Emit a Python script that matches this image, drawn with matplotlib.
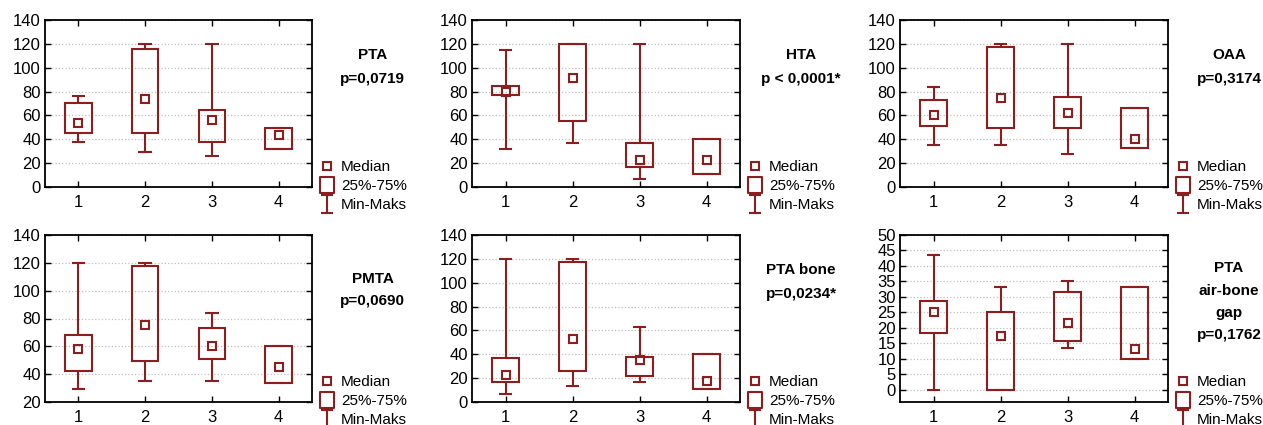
import numpy as np
import matplotlib.pyplot as plt
from matplotlib.lines import Line2D
from matplotlib.path import Path

plt.rcParams.update({
    "font.family": ["Liberation Sans", "DejaVu Sans"],
    "font.size": 10,
})

# === Data ===
groups = [1, 2, 3, 4]
titles = ["PTA\np=0,0719", "HTA\np < 0,0001*", "OAA\np=0,3174",
          "PMTA\np=0,0690", "PTA bone\np=0,0234*", "PTA\nair-bone\ngap\np=0,1762"]

# each panel: min, q1, median, q3, max for groups 1..4
pta_min = [38, 29, 26, 31.5]
pta_q1 = [45.5, 45.5, 38, 31.5]
pta_med = [54, 73.5, 56, 44]
pta_q3 = [70.5, 116, 64.5, 49.5]
pta_max = [76, 120, 120, 49.5]

hta_min = [31.5, 37, 7, 11]
hta_q1 = [77.5, 55.5, 16.5, 11]
hta_med = [79.5, 91.5, 23, 23]
hta_q3 = [84.5, 120, 37, 40]
hta_max = [115, 120, 120, 40]

oaa_min = [35, 35, 28, 32.5]
oaa_q1 = [51, 49.5, 49.5, 32.5]
oaa_med = [60, 75, 62, 40.5]
oaa_q3 = [73, 117.5, 75.5, 66.5]
oaa_max = [84, 120, 120, 66.5]

pmta_min = [29, 35, 35, 33.5]
pmta_q1 = [42.5, 49.5, 51, 33.5]
pmta_med = [58, 75.5, 60, 45]
pmta_q3 = [68.5, 117.5, 73, 60]
pmta_max = [120, 120, 84, 60]

bone_min = [6.5, 13.5, 16.5, 11]
bone_q1 = [16.5, 26, 22, 11]
bone_med = [23, 53, 35, 18]
bone_q3 = [37, 117, 38, 40]
bone_max = [120, 120, 63, 40]

gap_min = [0, 0, 13.3, 10]
gap_q1 = [18.3, 0, 15.8, 10]
gap_med = [25, 17.2, 21.7, 13.2]
gap_q3 = [28.5, 25, 31.6, 33.3]
gap_max = [43.4, 33.3, 35, 33.3]

panels = [
    (pta_min, pta_q1, pta_med, pta_q3, pta_max),
    (hta_min, hta_q1, hta_med, hta_q3, hta_max),
    (oaa_min, oaa_q1, oaa_med, oaa_q3, oaa_max),
    (pmta_min, pmta_q1, pmta_med, pmta_q3, pmta_max),
    (bone_min, bone_q1, bone_med, bone_q3, bone_max),
    (gap_min, gap_q1, gap_med, gap_q3, gap_max),
]
ylims = [(0, 140), (0, 140), (0, 140), (20, 140), (0, 140), (-4, 50)]
yticks = [np.arange(0, 141, 20)] * 3 + [np.arange(20, 141, 20), np.arange(0, 141, 20),
                                         np.arange(0, 51, 5)]
title_y = [0.72, 0.72, 0.72, 0.67, 0.72, 0.60]
title_ls = [1.9, 1.9, 1.9, 1.75, 1.9, 1.75]

# === Styling ===
col = "#8e1d1d"
W, H = 1263, 425
lefts = [45, 472, 900]
rights = [312, 740, 1168]
tops = [20, 235]
ax_h = 167

rect = Path([(-0.43, -0.5), (0.43, -0.5), (0.43, 0.5), (-0.43, 0.5), (-0.43, -0.5)],
            [Path.MOVETO, Path.LINETO, Path.LINETO, Path.LINETO, Path.CLOSEPOLY])
ibeam = Path([(-0.35, 0.5), (0.35, 0.5), (0, 0.5), (0, -0.5), (-0.35, -0.5), (0.35, -0.5)],
             [Path.MOVETO, Path.LINETO, Path.MOVETO, Path.LINETO, Path.MOVETO, Path.LINETO])
handles = [
    Line2D([], [], ls="none", marker="s", ms=6, mfc="none", mec=col, mew=1.5),
    Line2D([], [], ls="none", marker=rect, ms=12, mfc="none", mec=col, mew=1.5),
    Line2D([], [], ls="none", marker=ibeam, ms=13, mfc="none", mec=col, mew=1.5),
]
labels = ["Median", "25%-75%", "Min-Maks"]

fig = plt.figure(figsize=(W / 100, H / 100), dpi=100)

for i, (mn, q1, med, q3, mx) in enumerate(panels):
    r, c = divmod(i, 3)
    l, rr, t = lefts[c], rights[c], tops[r]
    ax = fig.add_axes([l / W, 1 - (t + ax_h) / H, (rr - l) / W, ax_h / H])
    x = np.array(groups)
    mn, q1, med, q3, mx = map(np.array, (mn, q1, med, q3, mx))

    ax.bar(x, q3 - q1, bottom=q1, width=0.4, fill=False, edgecolor=col, linewidth=1.5, zorder=3)
    ax.vlines(x, q3, mx, color=col, lw=1.5, zorder=3)
    ax.vlines(x, mn, q1, color=col, lw=1.5, zorder=3)
    ax.hlines(mx, x - 0.1, x + 0.1, color=col, lw=1.5, zorder=3)
    ax.hlines(mn, x - 0.1, x + 0.1, color=col, lw=1.5, zorder=3)
    ax.plot(x, med, ls="none", marker="s", ms=6, mfc="none", mec=col, mew=1.5, zorder=4)

    ax.set_xlim(0.5, 4.5)
    ax.set_ylim(*ylims[i])
    ax.set_xticks(groups)
    ax.set_yticks(yticks[i])
    ax.tick_params(axis="x", direction="in", top=True, length=4, width=1, labelsize=12, pad=6)
    ax.tick_params(axis="y", direction="in", right=True, length=4, width=1, labelsize=12, pad=3)
    ax.yaxis.grid(True, color="#c0c0c0", linestyle=":", linewidth=0.9)
    ax.set_axisbelow(True)
    for s in ax.spines.values():
        s.set_linewidth(1.3)

    ax.text(1.228, title_y[i], titles[i], transform=ax.transAxes, ha="center", va="center",
            fontsize=11, fontweight="bold", linespacing=title_ls[i])
    ax.legend(handles, labels, loc="upper left", bbox_to_anchor=(1.028, 0.16),
              frameon=False, fontsize=11, handlelength=1.0, handletextpad=0.4,
              labelspacing=0.33, borderaxespad=0, borderpad=0)

plt.savefig("out.png", dpi=100)
